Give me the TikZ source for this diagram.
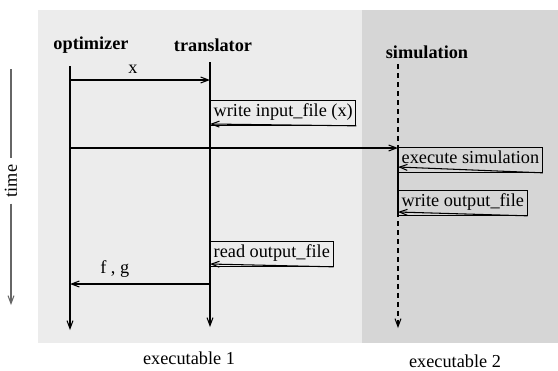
\documentclass[tikz,border=0pt]{standalone}
\usepackage{fontspec}
\setmainfont{Liberation Serif}
\usetikzlibrary{arrows.meta}

\begin{document}
\begin{tikzpicture}
[x=0.02cm,y=-0.02cm,>={Straight Barb[length=4.5pt,width=3.4pt]},line width=0.6pt,
 font=\fontsize{10.4}{12}\selectfont,
 actor/.style={font=\fontsize{10.4}{12}\selectfont\bfseries},
 callbox/.style={draw,anchor=north west,inner xsep=1.8pt,inner ysep=1.5pt,text height=7.5pt,text depth=3.6pt},
 simdash/.style={dash pattern=on 1mm off 0.8mm},]

%Canvas
\useasboundingbox (0,0) rectangle (558,370);
\fill[gray!15] (38,10) rectangle (362,343);
\fill[gray!32] (362,10) rectangle (558,343);

%Lifeline positions
\def\xo{70}
\def\xt{210}
\def\xs{398}

%Heads of the lifelines
\node[actor] (opt) at (91,45) {optimizer};
\node[actor] (trans) at (213,45) {translator};
\node[actor] (sim) at (427,52) {simulation};

\coordinate (optTop) at (\xo,66);
\coordinate (optEnd) at (\xo,330);
\coordinate (transTop) at (\xt,62);
\coordinate (transEnd) at (\xt,327);
\coordinate (simTop) at (\xs,64);
\coordinate (simEnd) at (\xs,328);

%Drawing lifelines
\draw[->] (optTop) -- (optEnd);
\draw[->] (transTop) -- (transEnd);

%Calls
\coordinate (o1) at (\xo,80);
\coordinate (t1) at (\xt,80);
\draw[->] (o1) -- node[above,pos=0.45] {x} (t1);

\node[callbox] (writeIn) at (\xt,100) {write input\_file (x)};
\coordinate (t2) at (\xt,124);
\draw[->] (writeIn.south east) -- (t2);

\coordinate (o3) at (\xo,148);
\coordinate (s3) at (\xs,148);
\draw[->] (o3) -- (s3);

\node[callbox] (exec) at (\xs,147) {execute simulation};
\coordinate (s4) at (\xs,167);
\draw[->] (exec.south east) -- (s4);

\node[callbox] (writeOut) at (\xs,190) {write output\_file};
\coordinate (s5) at (\xs,212);
\draw[->] (writeOut.south east) -- (s5);

%Simulation lifeline, solid while active
\draw[simdash] (simTop) -- (s3);
\draw (s3) -- (s5);
\draw[simdash,->] (s5) -- (simEnd);

\node[callbox] (readOut) at (\xt,241) {read output\_file};
\coordinate (t6) at (\xt,264);
\draw[->] (readOut.south east) -- (t6);

\coordinate (t7) at (\xt,284);
\coordinate (o7) at (\xo,284);
\draw[->] (t7) -- node[above,pos=0.68] {f , g} (o7);

%Time axis
\node[rotate=90] (time) at (11,181) {time};
\coordinate (timeTop) at (11,69);
\coordinate (timeEnd) at (11,305);
\draw[gray!80!black] (timeTop) -- (time.east);
\draw[gray!80!black,->] (time.west) -- (timeEnd);

%Executables
\node (exe1) at (189,358) {executable 1};
\node (exe2) at (455,361) {executable 2};

\end{tikzpicture}
\end{document}
